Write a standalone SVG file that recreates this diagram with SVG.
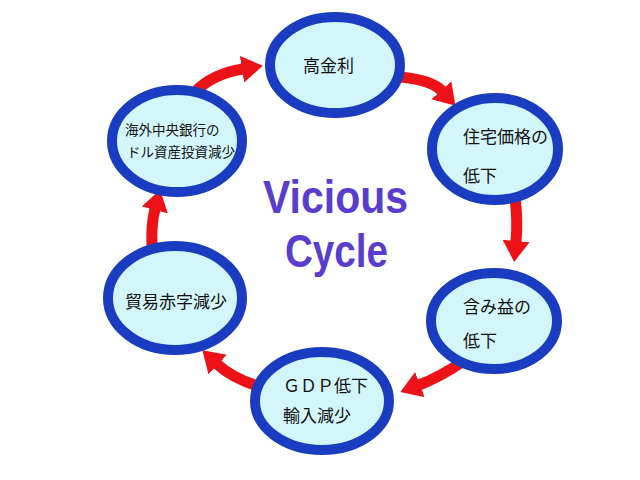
<svg xmlns="http://www.w3.org/2000/svg" width="640" height="480" viewBox="0 0 640 480">
<style>
.ring{fill:#d3f6fb;stroke:#1a3cc0;stroke-width:10}
.lbl{font-family:"Noto Sans CJK JP","Noto Sans CJK SC",sans-serif;fill:#111;font-size:17px}
.sm{font-size:13.5px}
.arr{fill:none;stroke:#ec1218;stroke-width:11;marker-end:url(#head)}
.title{font-family:"Liberation Sans",Arial,sans-serif;font-weight:bold;font-size:46px;fill:#5a3ccf}
</style>
<defs>
<marker id="head" viewBox="0 0 21 27" markerWidth="21" markerHeight="27" markerUnits="userSpaceOnUse" refX="1" refY="13.5" orient="auto">
<path d="M0,0 L21,13.5 L0,27 z" fill="#ec1218"/>
</marker>
</defs>
<rect width="640" height="480" fill="#fff"/>
<g id="connectors">
<path class="arr" d="M195,92 Q212,74 243,69"/>
<path class="arr" d="M400,77 Q432,80 442,91"/>
<path class="arr" d="M515,198 Q518,220 516,242"/>
<path class="arr" d="M462,362 Q440,377 419,385"/>
<path class="arr" d="M258,386 Q232,378 217,364"/>
<path class="arr" d="M152,246 Q151,224 155,209"/>
</g>
<g id="node-kokinri">
<ellipse class="ring" cx="335" cy="65" rx="65" ry="48"/>
<text class="lbl" x="303" y="72">高金利</text>
</g>
<g id="node-jutaku">
<ellipse class="ring" cx="495" cy="149" rx="63" ry="51"/>
<text class="lbl" x="463" y="143">住宅価格の</text>
<text class="lbl" x="463" y="182">低下</text>
</g>
<g id="node-fukumieki">
<ellipse class="ring" cx="494" cy="321" rx="63" ry="48"/>
<text class="lbl" x="463" y="313">含み益の</text>
<text class="lbl" x="463" y="347">低下</text>
</g>
<g id="node-gdp">
<ellipse class="ring" cx="322" cy="401" rx="67" ry="49"/>
<text class="lbl" x="283" y="392">ＧＤＰ低下</text>
<text class="lbl" x="283" y="422">輸入減少</text>
</g>
<g id="node-boeki">
<ellipse class="ring" cx="175" cy="298" rx="67" ry="52"/>
<text class="lbl" x="125" y="308">貿易赤字減少</text>
</g>
<g id="node-kaigai">
<ellipse class="ring" cx="177" cy="141" rx="65" ry="51"/>
<text class="lbl sm" x="125" y="135">海外中央銀行の</text>
<text class="lbl sm" x="127" y="157">ドル資産投資減少</text>
</g>
<g id="title">
<text class="title" x="263" y="213" textLength="145" lengthAdjust="spacingAndGlyphs">Vicious</text>
<text class="title" x="285" y="267" textLength="103" lengthAdjust="spacingAndGlyphs">Cycle</text>
</g>
</svg>
